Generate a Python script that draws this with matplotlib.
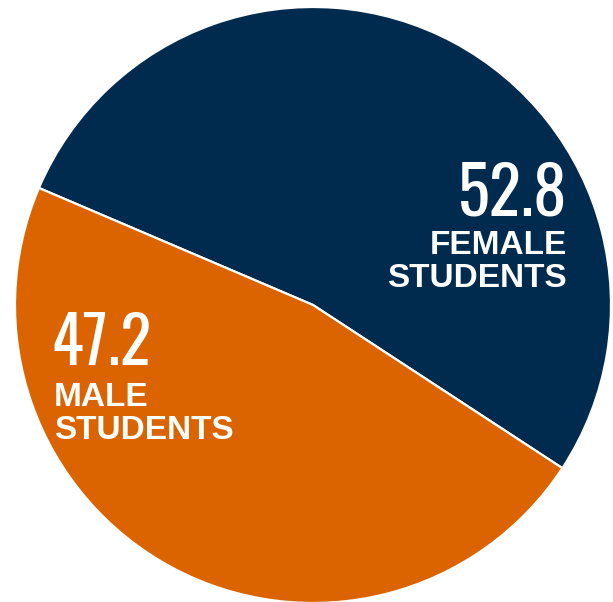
import matplotlib
matplotlib.use('Agg')
import matplotlib.pyplot as plt

# values
groups = ['FEMALE\nSTUDENTS', 'MALE\nSTUDENTS']
shares = [52.8, 47.2]
colours = ['#002A4E', '#DB6300']

W, H = 613, 602
fig = plt.figure(figsize=(W / 100, H / 100), dpi=100)
ax = fig.add_axes([0, 0, 1, 1])

# circle centre (313, 305) px, radius 298 px
cx, cy, r = 313, 305, 298
ax.pie(shares, colors=colours, startangle=-33.2, counterclock=True,
       radius=1, wedgeprops=dict(edgecolor='white', linewidth=1.6))
ax.set_aspect('auto')
ax.set_xlim(-cx / r, (W - cx) / r)
ax.set_ylim((cy - H) / r, cy / r)
ax.axis('off')

def fy(py):
    return 1 - py / H

num_font = dict(family=['Oswald', 'Roboto Condensed', 'DejaVu Sans'], weight='bold', color='white')
lab_font = dict(family=['Liberation Sans', 'DejaVu Sans'], weight='bold', color='white')

# female label, right aligned
fig.text(567 / W, fy(215), '%.1f' % shares[0], fontsize=48, ha='right', va='baseline', **num_font)
fig.text(567 / W, fy(254), groups[0].split('\n')[0], fontsize=24, ha='right', va='baseline', **lab_font)
fig.text(567 / W, fy(287), groups[0].split('\n')[1], fontsize=24, ha='right', va='baseline', **lab_font)

# male label, left aligned
fig.text(51 / W, fy(365), '%.1f' % shares[1], fontsize=47, ha='left', va='baseline', **num_font)
fig.text(54 / W, fy(406), groups[1].split('\n')[0], fontsize=24, ha='left', va='baseline', **lab_font)
fig.text(54 / W, fy(439), groups[1].split('\n')[1], fontsize=24, ha='left', va='baseline', **lab_font)

fig.savefig('out.png', dpi=100, facecolor='white')
